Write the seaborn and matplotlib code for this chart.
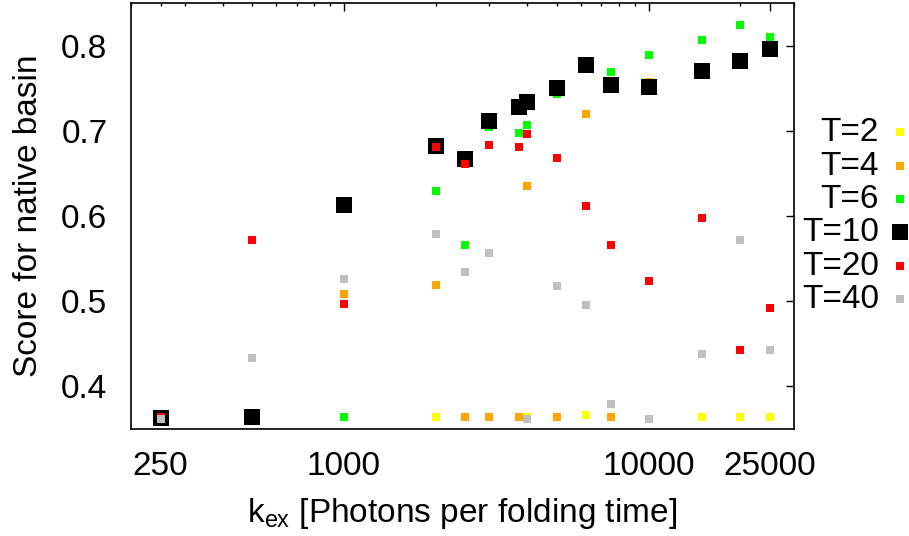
import numpy as np
import pandas as pd
import matplotlib
matplotlib.use("Agg")
import matplotlib.pyplot as plt
import matplotlib.ticker as mticker
import seaborn as sns

# Excitation rates (photons per folding time)
k_ex = [250, 500, 1000, 2000, 2500, 3000, 3750, 4000, 5000, 6250, 7500,
        10000, 15000, 20000, 25000]

# Native-basin score for each temperature setting
score_T2 = [0.364, 0.364, 0.364, 0.364, 0.364, 0.364, 0.364, 0.364, 0.364,
            0.3666, 0.364, 0.3615, 0.364, 0.364, 0.364]
score_T4 = [0.364, 0.364, 0.5085, 0.5187, 0.364, 0.364, 0.364, 0.6358, 0.364,
            0.7203, 0.364, 0.7576, 0.772, 0.783, 0.799]
score_T6 = [0.364, 0.364, 0.364, 0.629, 0.5665, 0.704, 0.698, 0.7074, 0.7428,
            0.7747, 0.7688, 0.7887, 0.807, 0.8237, 0.8097]
score_T10 = [0.3634, 0.3638, 0.613, 0.682, 0.667, 0.712, 0.728, 0.7335, 0.7498,
             0.7767, 0.7533, 0.751, 0.770, 0.782, 0.7957]
score_T20 = [0.364, 0.5716, 0.4962, 0.681, 0.661, 0.683, 0.681, 0.6965, 0.6685,
             0.6113, 0.5662, 0.5234, 0.598, 0.4432, 0.4925]
score_T40 = [0.362, 0.4338, 0.5257, 0.5786, 0.5339, 0.5569, np.nan, 0.3615,
             0.5175, 0.4953, 0.3795, 0.3615, 0.4381, 0.5716, 0.4425]

series_labels = ["T=2", "T=4", "T=6", "T=10", "T=20", "T=40"]
series_scores = [score_T2, score_T4, score_T6, score_T10, score_T20, score_T40]
series_colors = ["#ffff00", "#ffa500", "#00ff00", "#000000", "#ff0000", "#c0c0c0"]
series_sizes = [26, 26, 26, 140, 26, 26]

sns.set_theme(style="white")
plt.rcParams["font.family"] = ["Liberation Sans", "DejaVu Sans"]
plt.rcParams["mathtext.fontset"] = "custom"
plt.rcParams["mathtext.rm"] = "Liberation Sans"
plt.rcParams["mathtext.it"] = "Liberation Sans"
plt.rcParams["text.color"] = "black"
plt.rcParams["axes.labelcolor"] = "black"

fig = plt.figure(figsize=(9.09, 5.36), dpi=100)
ax = fig.add_axes([0.1441, 0.1996, 0.7294, 0.7948])

for label, scores, color, size in zip(series_labels, series_scores,
                                      series_colors, series_sizes):
    df = pd.DataFrame({"k_ex": k_ex, "score": scores}).dropna()
    sns.scatterplot(data=df, x="k_ex", y="score", color=color, marker="s",
                    s=size, linewidth=0, label=label, ax=ax, zorder=3)

ax.set_xscale("log")
ax.set_xlim(200, 30000)
ax.set_ylim(0.35, 0.85)

ax.xaxis.set_major_locator(mticker.FixedLocator([1000, 10000, 25000]))
ax.xaxis.set_major_formatter(mticker.FixedFormatter(["1000", "10000", "25000"]))
minor_x = [200, 250, 300, 400, 500, 600, 700, 800, 900,
           2000, 3000, 4000, 5000, 6000, 7000, 8000, 9000, 20000, 30000]
ax.xaxis.set_minor_locator(mticker.FixedLocator(minor_x))
ax.xaxis.set_minor_formatter(
    mticker.FuncFormatter(lambda v, p: "250" if abs(v - 250) < 1e-6 else ""))
ax.yaxis.set_major_locator(mticker.FixedLocator([0.4, 0.5, 0.6, 0.7, 0.8]))
ax.yaxis.set_major_formatter(mticker.FormatStrFormatter("%.1f"))
ax.yaxis.set_minor_locator(mticker.NullLocator())

fs = 24
ax.tick_params(axis="both", which="both", direction="in", top=True, right=True,
               labelsize=fs, colors="black", width=1.0)
ax.tick_params(axis="both", which="major", length=5.5)
ax.tick_params(axis="x", which="minor", length=2.5)
ax.tick_params(axis="x", which="both", pad=16)
ax.tick_params(axis="y", which="both", pad=17)
for spine in ax.spines.values():
    spine.set_color("black")
    spine.set_linewidth(1.2)

ax.set_xlabel(r"k$_{\mathrm{ex}}$ [Photons per folding time]", fontsize=fs,
              labelpad=10)
ax.set_ylabel("Score for native basin", fontsize=fs, labelpad=12)

ax.legend(loc="center left", bbox_to_anchor=(0.992, 0.5), frameon=False,
          markerfirst=False, fontsize=fs, handletextpad=0.18,
          labelspacing=0.07, handlelength=0.9, borderaxespad=0.0,
          borderpad=0.4)

fig.savefig("out.png", dpi=100)
